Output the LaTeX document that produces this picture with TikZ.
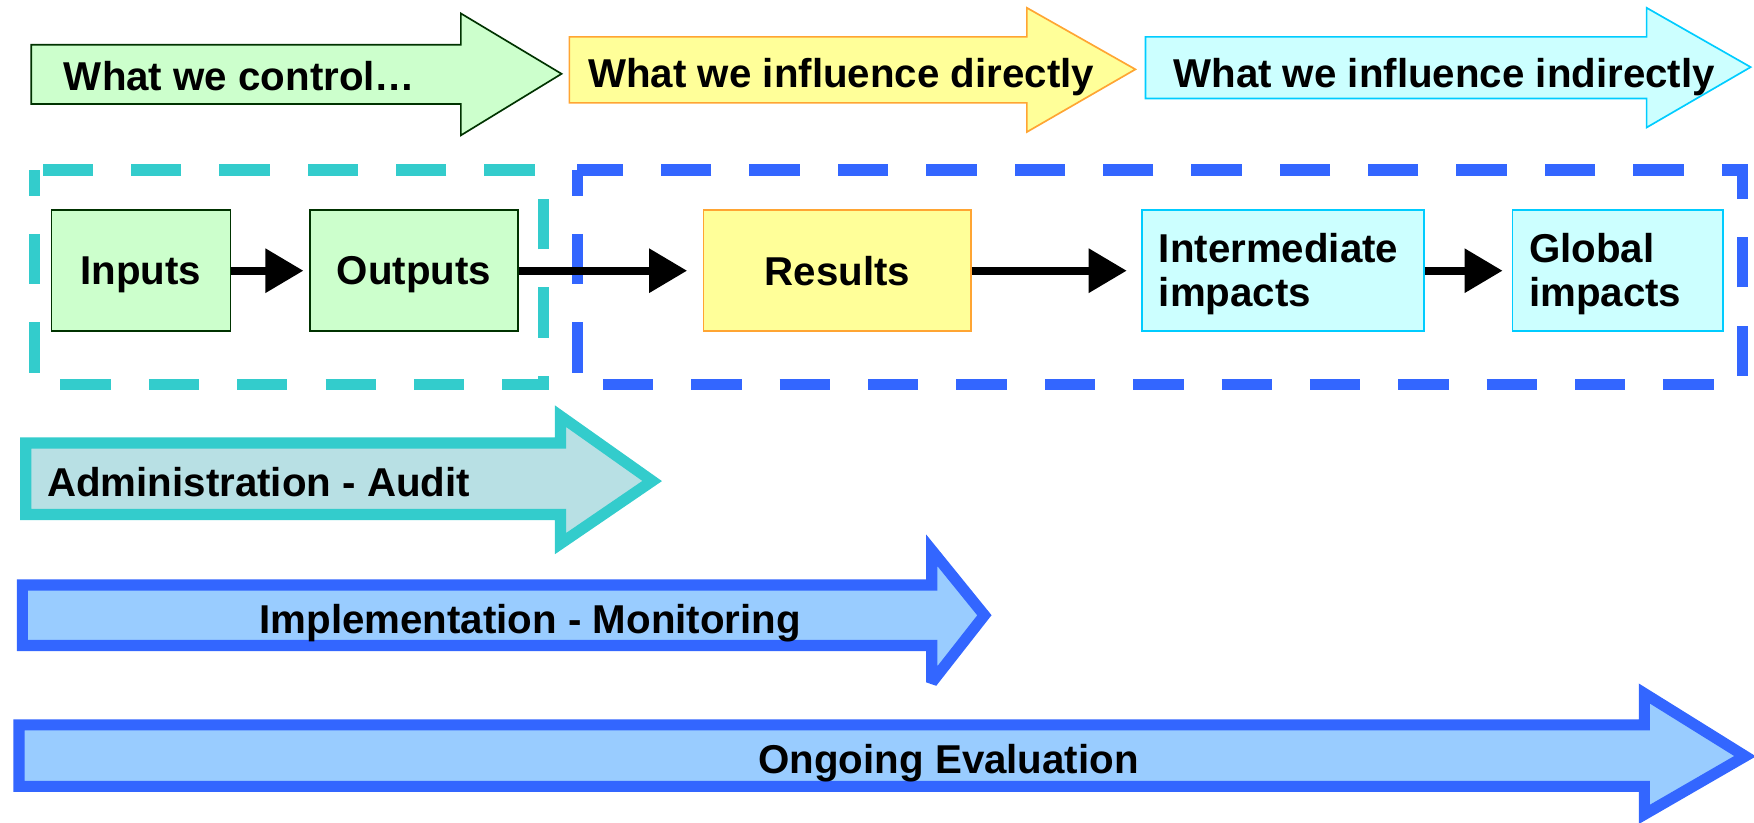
\documentclass[tikz,border=0pt]{standalone}
\usepackage{fontspec}
\setmainfont{Liberation Sans}
\usetikzlibrary{arrows.meta}
\definecolor{gfill}{HTML}{CCFFCC}
\definecolor{gdraw}{HTML}{003300}
\definecolor{yfill}{HTML}{FFFF99}
\definecolor{ydraw}{HTML}{FFA533}
\definecolor{cfill}{HTML}{CCFFFF}
\definecolor{cdraw}{HTML}{00CCFF}
\definecolor{teal2}{HTML}{33CCCC}
\definecolor{blue2}{HTML}{3366FF}
\definecolor{afill}{HTML}{B8E0E4}
\definecolor{bfill}{HTML}{99CCFF}
\tikzset{
  lbl/.style={font=\fontsize{36}{39}\selectfont\bfseries, inner sep=0pt, text depth=0pt},
  box/.style={draw, line width=1.5pt, minimum height=108pt, inner sep=0pt,
    font=\fontsize{36}{39}\selectfont\bfseries},
  gbox/.style={box, fill=gfill, draw=gdraw, text depth=0pt},
  ybox/.style={box, fill=yfill, draw=ydraw, text depth=0pt},
  cbox/.style={box, fill=cfill, draw=cdraw, align=left, inner xsep=15pt, text depth=40pt},
  conn/.style={line width=7pt, -{Triangle[length=34pt,width=38pt]}},
  dashbox/.style={line width=10pt, dash pattern=on 45pt off 34pt, dash phase=22pt},
  bigarrow/.style={line width=10pt, line join=miter, miter limit=3},
}
\begin{document}
\begin{tikzpicture}[x=1pt,y=-1pt]
\useasboundingbox (0,0) rectangle (1568,735);
% top arrows
\draw[fill=gfill, draw=gdraw, line width=1.5pt] (28,40) -- (412,40) -- (412,12) -- (502,66) -- (412,121) -- (412,93) -- (28,93) -- cycle;
\node[lbl, anchor=west] (t1) at (57,68) {What we control…};
\draw[fill=yfill, draw=ydraw, line width=1.5pt] (509,33) -- (918,33) -- (918,7) -- (1015,62) -- (918,118) -- (918,92) -- (509,92) -- cycle;
\node[lbl] (t2) at (752,65) {What we influence directly};
\draw[fill=cfill, draw=cdraw, line width=1.5pt] (1024,33) -- (1472,33) -- (1472,7) -- (1565,60) -- (1472,114) -- (1472,88) -- (1024,88) -- cycle;
\node[lbl] (t3) at (1291,65) {What we influence indirectly};
% dashed groups
\draw[dashbox, draw=teal2] (31,152) rectangle (486,344);
\draw[dashbox, draw=blue2] (516,152) rectangle (1558,344);
% boxes
\node[gbox, minimum width=160pt] (in) at (126,242) {Inputs};
\node[gbox, minimum width=186pt] (out) at (370,242) {Outputs};
\node[ybox, minimum width=239pt] (res) at (748.5,242) {Results};
\node[cbox, text width=222pt] (int) at (1147,242) {Intermediate\\impacts};
\node[cbox, text width=158pt] (glob) at (1446,242) {Global\\impacts};
% connectors
\draw[conn, shorten >=5pt] (in) -- (out);
\draw[conn, shorten >=14pt] (out) -- (res);
\draw[conn, shorten >=13pt] (res) -- (int);
\draw[conn, shorten >=8pt] (int) -- (glob);
% bottom arrows
\draw[bigarrow, fill=afill, draw=teal2] (23,396) -- (501,396) -- (501,372) -- (583,430) -- (501,486) -- (501,460) -- (23,460) -- cycle;
\node[lbl, anchor=west] (adm) at (42,431) {Administration - Audit};
\draw[bigarrow, fill=bfill, draw=blue2] (20,523) -- (833,523) -- (833,492) -- (880,550) -- (833,610) -- (833,577) -- (20,577) -- cycle;
\node[lbl] (imp) at (474,553) {Implementation - Monitoring};
\draw[bigarrow, fill=bfill, draw=blue2] (17,648) -- (1470,648) -- (1470,620) -- (1560,676) -- (1470,728) -- (1470,703) -- (17,703) -- cycle;
\node[lbl] (eval) at (848,678) {Ongoing Evaluation};
\end{tikzpicture}
\end{document}
